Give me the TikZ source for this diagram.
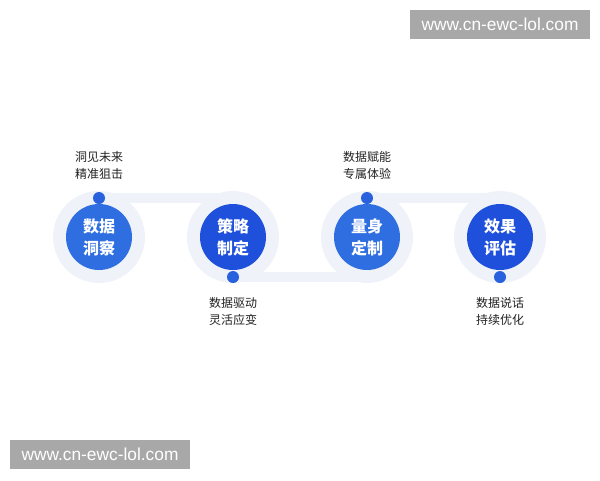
\documentclass[tikz,border=0pt]{standalone}
\usepackage{fontspec}
\setmainfont{Liberation Sans}
\newfontfamily\cjk{Noto Sans CJK SC}

\definecolor{ringgray}{RGB}{239,242,249}
\definecolor{bluelight}{RGB}{46,110,224}
\definecolor{bluedeep}{RGB}{31,80,219}
\definecolor{dotblue}{RGB}{40,96,222}
\definecolor{labelgray}{RGB}{34,34,34}
\definecolor{markgray}{RGB}{168,168,168}

\tikzset{
  ringdisk/.style={circle,fill=ringgray,minimum size=69pt,inner sep=0pt},
  stepdisk/.style={circle,minimum size=49.5pt,inner sep=0pt,text=white,align=center,
    font=\cjk\bfseries\fontsize{12}{16.5}\selectfont},
  pin/.style={circle,fill=dotblue,minimum size=9pt,inner sep=0pt},
  band/.style={draw=ringgray,line width=7.5pt},
  tiptext/.style={align=center,text=labelgray,font=\cjk\fontsize{9}{12.75}\selectfont},
  markbox/.style={fill=markgray,text=white,minimum width=135pt,minimum height=21.75pt,
    inner sep=0pt,font=\fontsize{13}{15}\selectfont}
}

\begin{document}
\begin{tikzpicture}[x=0.75pt,y=0.75pt,yscale=-1,xscale=1]
\useasboundingbox (0,0) rectangle (600,480);

% Watermarks
\node[markbox] (mtop) at (500,24.5) {www.cn-ewc-lol.com};
\node[markbox] (mbot) at (100,454.5) {www.cn-ewc-lol.com};

%Shape: Rings
\node[ringdisk] (r1) at (99,237) {};
\node[ringdisk] (r2) at (233,237) {};
\node[ringdisk] (r3) at (367,237) {};
\node[ringdisk] (r4) at (500,237) {};

%Shape: Pins
\coordinate (p1) at (99,198);
\coordinate (p2) at (233,277);
\coordinate (p3) at (367,198);
\coordinate (p4) at (500,277);

%Straight Lines: track
\draw[band] (p1) -- (r2 |- p1);
\draw[band] (p2) -- (r3 |- p2);
\draw[band] (p3) -- (r4 |- p3);

%Shape: Steps
\node[stepdisk,fill=bluelight] (c1) at (r1) {数据\\洞察};
\node[stepdisk,fill=bluedeep] (c2) at (r2) {策略\\制定};
\node[stepdisk,fill=bluelight] (c3) at (r3) {量身\\定制};
\node[stepdisk,fill=bluedeep] (c4) at (r4) {效果\\评估};

\node[pin] (d1) at (p1) {};
\node[pin] (d2) at (p2) {};
\node[pin] (d3) at (p3) {};
\node[pin] (d4) at (p4) {};

% Text Node
\node[tiptext] (t1) at (99,165.5) {洞见未来\\精准狙击};
% Text Node
\node[tiptext] (t2) at (233,311.5) {数据驱动\\灵活应变};
% Text Node
\node[tiptext] (t3) at (367,165.5) {数据赋能\\专属体验};
% Text Node
\node[tiptext] (t4) at (500,311.5) {数据说话\\持续优化};

\end{tikzpicture}
\end{document}
